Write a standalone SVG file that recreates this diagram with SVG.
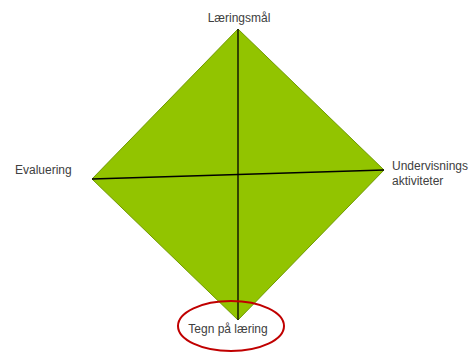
<svg xmlns="http://www.w3.org/2000/svg" width="469" height="353" viewBox="0 0 469 353">
<style>
.lbl{font-family:"Liberation Sans",Arial,sans-serif;font-size:12px;fill:#404040}
.ln{stroke:#000;stroke-width:1.3;fill:none}
</style>
<rect width="469" height="353" fill="#fff"/>
<g id="diamond">
<polygon points="238,29 384,170 238,320 92,179" fill="#92c400" stroke="#6f9a00" stroke-width="1"/>
</g>
<g id="connectors">
<line class="ln" x1="238" y1="29" x2="238" y2="320"/>
<line class="ln" x1="92" y1="179" x2="384" y2="170"/>
</g>
<g id="n-top"><text class="lbl" x="239" y="22" text-anchor="middle">Læringsmål</text></g>
<g id="n-left"><text class="lbl" x="15" y="174">Evaluering</text></g>
<g id="n-right"><text class="lbl" x="392" y="170">Undervisnings</text><text class="lbl" x="392" y="185">aktiviteter</text></g>
<g id="n-bottom">
<ellipse cx="231" cy="326" rx="53" ry="25" fill="none" stroke="#c00000" stroke-width="2"/>
<text class="lbl" x="228" y="333" text-anchor="middle">Tegn på læring</text>
</g>
</svg>
